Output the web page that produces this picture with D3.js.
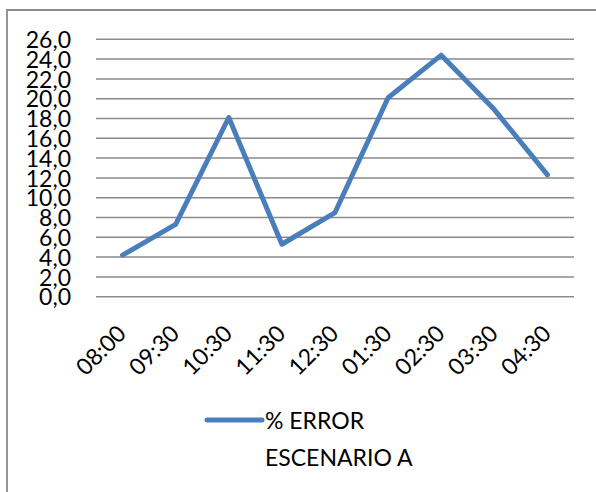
<!DOCTYPE html>
<html>
<head>
<meta charset="utf-8">
<script src="https://cdn.jsdelivr.net/npm/d3@7/dist/d3.min.js"></script>
<style>
html,body{margin:0;padding:0;background:#fff;}
svg{display:block;}
text{font-family:Lato,"Open Sans",sans-serif;fill:#000;}
</style>
</head>
<body>
<svg id="chart" width="596" height="492"></svg>
<script>
const categories = ["08:00","09:30","10:30","11:30","12:30","01:30","02:30","03:30","04:30"];
const errorValues = [4.2, 7.3, 18.1, 5.3, 8.5, 20.1, 24.4, 18.9, 12.3];
const yTicks = [0,2,4,6,8,10,12,14,16,18,20,22,24,26];
const seriesName = ["% ERROR", "ESCENARIO A"];

const svg = d3.select("#chart");
const W = 596, H = 492;
const plot = {left: 96, right: 574, top: 39.3, bottom: 296.7};

// outer frame (only top and left edges visible)
svg.append("path")
  .attr("d", `M7,${H} L7,10 L${W},10`)
  .attr("fill","none").attr("stroke","#8c8c8c").attr("stroke-width",1.8);

const x = d3.scaleBand().domain(categories).range([plot.left, plot.right]);
const y = d3.scaleLinear().domain([0,26]).range([plot.bottom, plot.top]);

// gridlines
svg.append("g").selectAll("line").data(yTicks).join("line")
  .attr("x1", plot.left).attr("x2", plot.right)
  .attr("y1", d=>y(d)).attr("y2", d=>y(d))
  .attr("stroke","#8a8a8a").attr("stroke-width",1.5);

// y axis labels
const fmt = d => d3.format(".1f")(d).replace(".", ",");
const yAxis = d3.axisLeft(y).tickValues(yTicks).tickFormat(fmt).tickSize(0).tickPadding(0);
const gy = svg.append("g").attr("transform", `translate(71,0)`).call(yAxis);
gy.select(".domain").remove();
gy.selectAll("text").attr("font-size", 23).attr("font-family","Lato").attr("fill","#000").attr("dy","0.36em");

// x axis labels (rotated)
const xAxis = d3.axisBottom(x).tickSize(0).tickPadding(0);
const gx = svg.append("g").attr("transform", `translate(0,0)`).call(xAxis);
gx.select(".domain").remove();
gx.selectAll(".tick").attr("transform", d => `translate(${x(d)+x.bandwidth()/2},0)`);
gx.selectAll("text")
  .attr("font-size", 23).attr("font-family","Lato").attr("fill","#000")
  .attr("text-anchor","end").attr("dy", null).attr("y", null)
  .attr("transform", "translate(5,335) rotate(-45)");

// line
const line = d3.line()
  .x((d,i)=>x(categories[i])+x.bandwidth()/2)
  .y(d=>y(d));
svg.append("path").datum(errorValues)
  .attr("d", line)
  .attr("fill","none").attr("stroke","#4a7ebb").attr("stroke-width",5)
  .attr("stroke-linejoin","round").attr("stroke-linecap","round");

// legend
const lg = svg.append("g");
lg.append("line").attr("x1",207).attr("x2",262).attr("y1",420).attr("y2",420)
  .attr("stroke","#4a7ebb").attr("stroke-width",5).attr("stroke-linecap","round");
lg.append("text").attr("x",265).attr("y",429).attr("font-size",23).text(seriesName[0]);
lg.append("text").attr("x",265).attr("y",466).attr("font-size",23).text(seriesName[1]);
</script>
</body>
</html>
